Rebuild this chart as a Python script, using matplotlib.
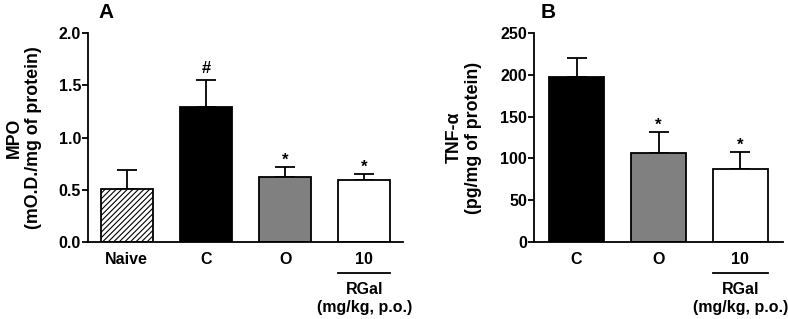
import numpy as np
import matplotlib.pyplot as plt
from matplotlib import transforms

plt.rcParams['font.family'] = ['Liberation Sans', 'DejaVu Sans']
plt.rcParams['font.weight'] = 'bold'
plt.rcParams['hatch.linewidth'] = 0.8

# ---- Data ----
mpo_groups = ["Naive", "C", "O", "10"]
mpo_mean = [0.51, 1.29, 0.62, 0.59]
mpo_err = [0.18, 0.26, 0.10, 0.06]
mpo_marks = ["", "#", "*", "*"]

tnf_groups = ["C", "O", "10"]
tnf_mean = [197, 107, 87]
tnf_err = [23, 25, 21]
tnf_marks = ["", "*", "*"]

colors_a = ["white", "black", "#808080", "white"]
hatches_a = ["//////", None, None, None]
colors_b = ["black", "#808080", "white"]

W, H = 788, 319
fig = plt.figure(figsize=(W / 100, H / 100), dpi=100)

bottom = 1 - 242 / H
height = (242 - 33) / H
axA = fig.add_axes([88 / W, bottom, (403 - 88) / W, height])
axB = fig.add_axes([534 / W, bottom, (783 - 534) / W, height])

TICK_FS = 11.5
MARK_OFFSET = {"#": 5, "*": 1.5}


def draw_panel(ax, groups, means, errs, marks, colors, hatches, width):
    x = np.arange(len(groups))
    for i in x:
        ax.bar(i, means[i], width=width, color=colors[i], edgecolor="black",
               linewidth=1.3, hatch=hatches[i], zorder=2)
    ax.errorbar(x, means, yerr=[np.zeros(len(x)), errs], fmt="none",
                ecolor="black", elinewidth=1.3, capsize=7, capthick=1.3, zorder=1)
    for i in x:
        if marks[i]:
            ax.annotate(marks[i], (i, means[i] + errs[i]),
                        xytext=(0, MARK_OFFSET[marks[i]]),
                        textcoords="offset points", ha="center", va="baseline",
                        fontsize=12, fontweight="bold")
    ax.set_xticks(x)
    ax.set_xticklabels(groups, fontsize=TICK_FS, fontweight="bold")
    for s in ["top", "right"]:
        ax.spines[s].set_visible(False)
    for s in ["left", "bottom"]:
        ax.spines[s].set_linewidth(1.3)
    ax.tick_params(axis="y", length=4, width=1.3, labelsize=TICK_FS, pad=1)
    ax.tick_params(axis="x", length=0, pad=7)
    for lab in ax.get_yticklabels():
        lab.set_fontweight("bold")
    # dose group label under the last bar
    last = x[-1]
    tr = transforms.blended_transform_factory(ax.transData, ax.transAxes)
    ax.plot([last - width / 2, last + width / 2], [-0.148, -0.148], color="black",
            lw=1.3, transform=tr, clip_on=False)
    ax.text(last, -0.225, "RGal", transform=tr, ha="center", va="center",
            fontsize=TICK_FS, fontweight="bold")
    ax.text(last, -0.315, "(mg/kg, p.o.)", transform=tr, ha="center", va="center",
            fontsize=TICK_FS, fontweight="bold")


draw_panel(axA, mpo_groups, mpo_mean, mpo_err, mpo_marks, colors_a, hatches_a, 0.66)
axA.set_xlim(-0.49, 3.49)
axA.set_ylim(0, 2.0)
axA.set_yticks([0.0, 0.5, 1.0, 1.5, 2.0])
axA.set_yticklabels(["0.0", "0.5", "1.0", "1.5", "2.0"])
axA.set_ylabel("MPO\n(mO.D./mg of protein)", fontsize=12.8, fontweight="bold",
               linespacing=1.2)
axA.yaxis.set_label_coords(-0.146, 0.5)

draw_panel(axB, tnf_groups, tnf_mean, tnf_err, tnf_marks, colors_b, [None] * 3, 0.67)
axB.set_xlim(-0.52, 2.52)
axB.set_ylim(0, 250)
axB.set_yticks([0, 50, 100, 150, 200, 250])
axB.set_ylabel("TNF-α\n(pg/mg of protein)", fontsize=12.8, fontweight="bold",
               linespacing=1.2)
axB.yaxis.set_label_coords(-0.209, 0.5)

fig.text(98 / W, 1 - 13 / H, "A", fontsize=15, fontweight="bold", ha="left", va="center")
fig.text(541 / W, 1 - 13 / H, "B", fontsize=15, fontweight="bold", ha="left", va="center")

fig.savefig("out.png", dpi=100)
plt.close(fig)
